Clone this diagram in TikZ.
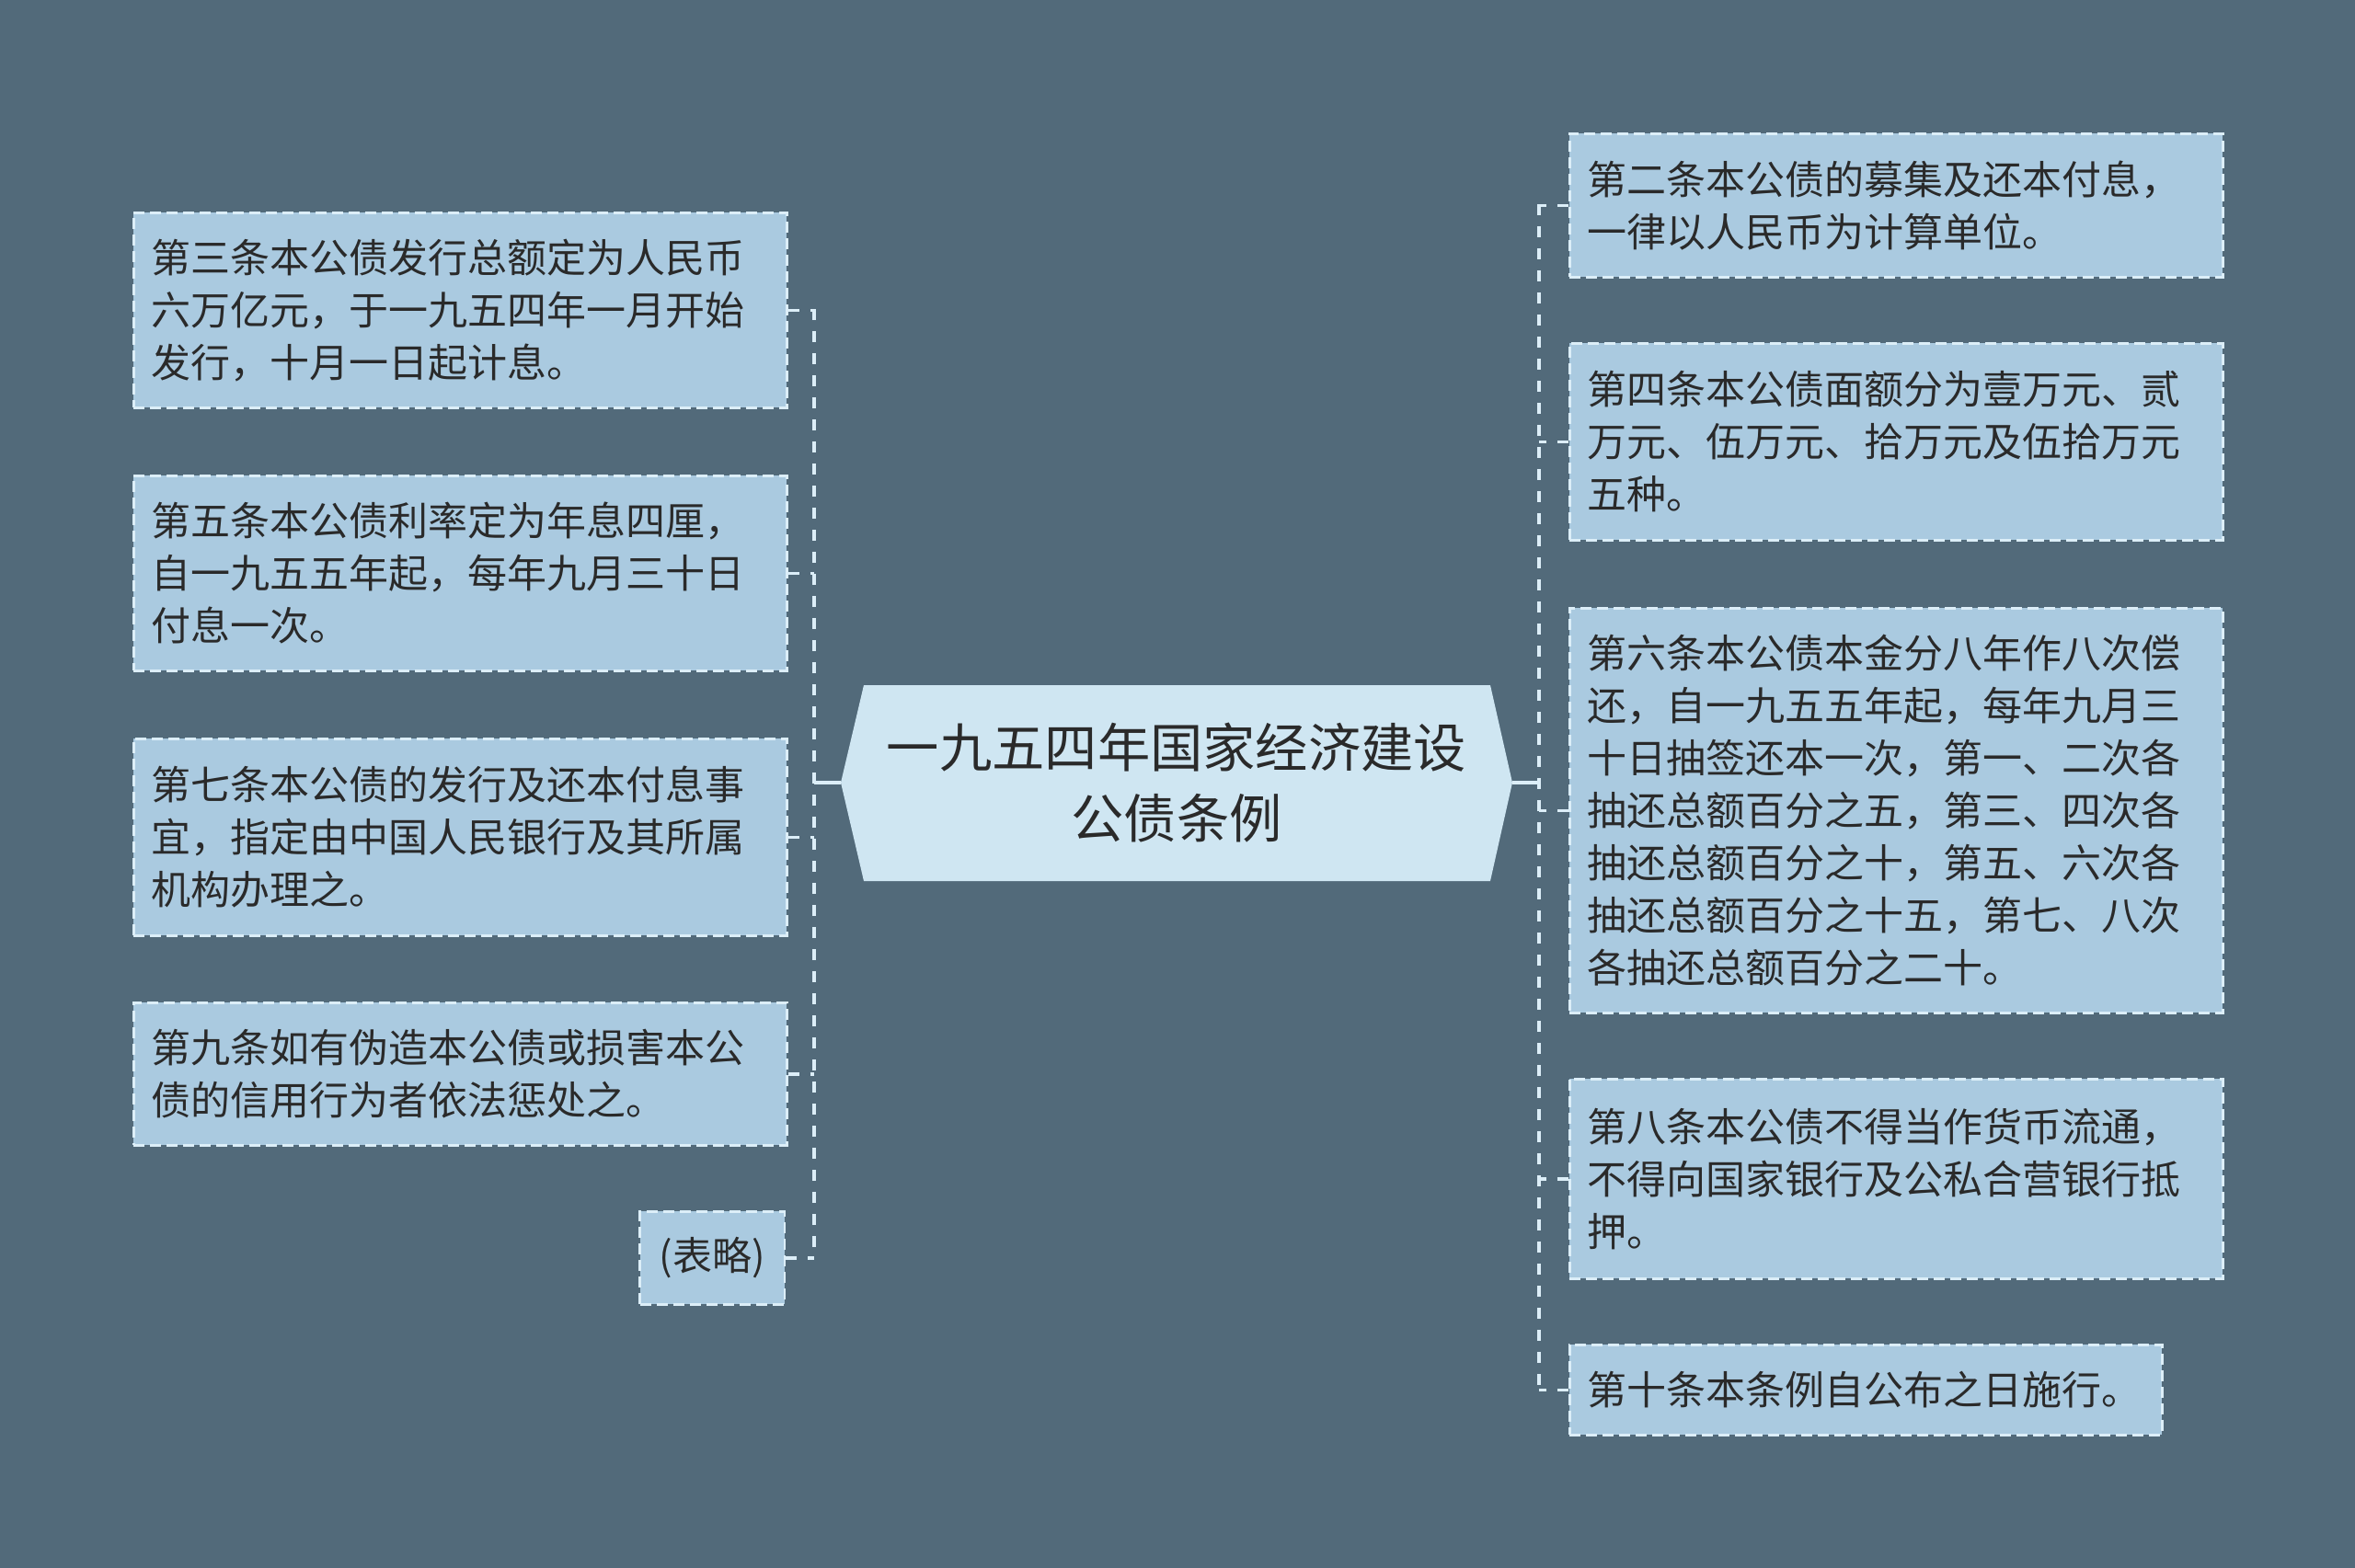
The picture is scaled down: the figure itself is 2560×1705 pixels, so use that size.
\documentclass[tikz,border=0pt]{standalone}
\usepackage{fontspec}
\setmainfont{Noto Sans CJK SC}
\definecolor{bg}{HTML}{526A7A}
\definecolor{boxfill}{HTML}{AACAE0}
\definecolor{boxline}{HTML}{DCEEF8}
\definecolor{cfill}{HTML}{CFE6F2}
\definecolor{txt}{HTML}{2A2A2A}
\begin{document}
\begin{tikzpicture}[x=1pt,y=-1pt,
  leaf/.style={draw=boxline, fill=boxfill, line width=2.5pt, dash pattern=on 12pt off 6pt,
    align=left, inner xsep=19pt, inner ysep=0pt, text=txt, font=\fontsize{43}{57}\selectfont},
  wide/.style={text width=672pt},
  conn/.style={draw=boxline, line width=3.5pt, dash pattern=on 12pt off 12pt},
  solidconn/.style={draw=boxline, line width=3.5pt},
  centre/.style={draw=none, align=center, text=txt, font=\fontsize{57.3}{77}\selectfont, inner sep=0pt}
]
\fill[bg] (0,0) rectangle (2560,1705);
\useasboundingbox (0,0) rectangle (2560,1705);

% central topic
\fill[cfill] (914,851) -- (939,745) -- (1620,745) -- (1644,851) -- (1620,958) -- (939,958) -- cycle;
\coordinate (cL) at (914,851);
\coordinate (cR) at (1644,851);
\node[centre] (c) at (1279,851) {一九五四年国家经济建设\\公债条例};

% left leaves
\node[leaf, wide, anchor=north west, minimum height=212pt] (L1) at (144,230)
  {第三条本公债发行总额定为人民币\\六万亿元，于一九五四年一月开始\\发行，十月一日起计息。};
\node[leaf, wide, anchor=north west, minimum height=212pt] (L2) at (144,516)
  {第五条本公债利率定为年息四厘，\\自一九五五年起，每年九月三十日\\付息一次。};
\node[leaf, wide, anchor=north west, minimum height=214pt] (L3) at (144,802)
  {第七条本公债的发行及还本付息事\\宜，指定由中国人民银行及其所属\\机构办理之。};
\node[leaf, wide, anchor=north west, minimum height=155pt] (L4) at (144,1089)
  {第九条如有伪造本公债或损害本公\\债的信用行为者依法惩处之。};
\node[leaf, anchor=north east, minimum height=101pt, inner xsep=21pt] (L5) at (854,1316)
  {(表略)};

% right leaves
\node[leaf, wide, anchor=north west, minimum height=156pt] (R1) at (1705,144)
  {第二条本公债的募集及还本付息，\\一律以人民币为计算单位。};
\node[leaf, wide, anchor=north west, minimum height=214pt] (R2) at (1705,372)
  {第四条本公债面额分为壹万元、贰\\万元、伍万元、拾万元及伍拾万元\\五种。};
\node[leaf, wide, anchor=north west, minimum height=440pt] (R3) at (1705,660)
  {第六条本公债本金分八年作八次偿\\还，自一九五五年起，每年九月三\\十日抽签还本一次，第一、二次各\\抽还总额百分之五，第三、四次各\\抽还总额百分之十，第五、六次各\\抽还总额百分之十五，第七、八次\\各抽还总额百分之二十。};
\node[leaf, wide, anchor=north west, minimum height=217pt] (R4) at (1705,1172)
  {第八条本公债不得当作货币流通，\\不得向国家银行及公私合营银行抵\\押。};
\node[leaf, text width=606pt, anchor=north west, minimum height=98pt] (R5) at (1705,1461)
  {第十条本条例自公布之日施行。};

% trunks
\coordinate (lt) at (885,336);
\coordinate (lb) at (885,1366);
\coordinate (rt) at (1673,222);
\coordinate (rb) at (1673,1510);

\draw[conn] (lt) -- (lb);
\draw[conn] (rt) -- (rb);
\draw[solidconn] (cL) -- (cL -| lt);
\draw[solidconn] (cR) -- (cR -| rt);
\foreach \n in {L1,L2,L3,L4,L5}{
  \draw[conn] (\n.east) -- (\n.east -| lt);
}
\foreach \n in {R1,R2,R3,R4,R5}{
  \draw[conn] (\n.west) -- (\n.west -| rt);
}
\end{tikzpicture}
\end{document}
